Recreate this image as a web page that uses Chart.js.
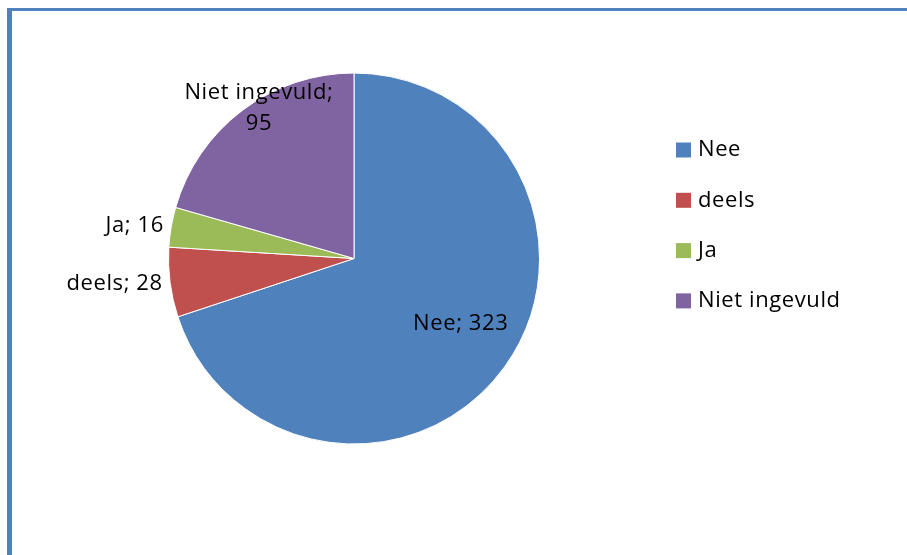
<!DOCTYPE html>
<html>
<head>
<meta charset="utf-8">
<script src="https://cdn.jsdelivr.net/npm/chart.js@4"></script>
<style>
  html, body { margin: 0; padding: 0; background: #fff; }
  #wrap { position: relative; width: 907px; height: 555px; overflow: hidden; }
  #frame { position: absolute; left: 7px; top: 8px; right: 0; bottom: 0;
           border-top: 3px solid #4f81bd; border-left: 5px solid #4f81bd; }
  #chart { position: absolute; left: 0; top: 0; }
</style>
</head>
<body>
<div id="wrap">
  <div id="frame"></div>
  <canvas id="chart" width="907" height="555"></canvas>
</div>
<script>
var labels = ['Nee', 'deels', 'Ja', 'Niet ingevuld'];
var values = [323, 28, 16, 95];
var colors = ['#4f81bd', '#c0504d', '#9bbb59', '#8064a2'];

var FONT = '22px "Open Sans", sans-serif';

// where each data label sits: fraction of the radius along the slice middle
var labelStyle = [
  { f: 0.65, align: 'center', dx: 9, dy: -5 },
  { f: 1.04, align: 'right', dx: 0, dy: 0 },
  { f: 1.04, align: 'right', dx: 0, dy: 0 },
  { f: 0.95, align: 'center', dx: 11, dy: -10, wrap: true }
];

var pieText = {
  id: 'pieText',
  afterDatasetsDraw: function (chart) {
    var ctx = chart.ctx;
    var arcs = chart.getDatasetMeta(0).data;
    ctx.save();
    ctx.font = FONT;
    ctx.letterSpacing = '0.6px';
    ctx.fillStyle = '#000';
    ctx.textBaseline = 'middle';
    arcs.forEach(function (arc, i) {
      var p = arc.getProps(['x', 'y', 'startAngle', 'endAngle', 'outerRadius'], true);
      var mid = (p.startAngle + p.endAngle) / 2;
      var s = labelStyle[i];
      var x = p.x + Math.cos(mid) * p.outerRadius * s.f + s.dx;
      var y = p.y + Math.sin(mid) * p.outerRadius * s.f + s.dy;
      var lines = s.wrap ? [labels[i] + ';', String(values[i])] : [labels[i] + '; ' + values[i]];
      ctx.textAlign = s.align;
      lines.forEach(function (line, k) {
        ctx.fillText(line, x, y + (k - (lines.length - 1) / 2) * 31);
      });
    });

    // legend on the right
    ctx.textAlign = 'left';
    labels.forEach(function (name, i) {
      var cy = 150 + i * 50.3;
      ctx.fillStyle = colors[i];
      ctx.fillRect(676, cy - 7.5, 15, 15);
      ctx.fillStyle = '#000';
      ctx.fillText(name, 698, cy);
    });
    ctx.restore();
  }
};

new Chart(document.getElementById('chart'), {
  type: 'pie',
  data: {
    labels: labels,
    datasets: [{
      data: values,
      backgroundColor: colors,
      borderColor: '#ffffff',
      borderWidth: 1
    }]
  },
  options: {
    responsive: false,
    animation: false,
    layout: { padding: { top: 72, bottom: 110, left: 168, right: 367 } },
    plugins: {
      legend: { display: false },
      tooltip: { enabled: false }
    }
  },
  plugins: [pieText]
});
</script>
</body>
</html>
